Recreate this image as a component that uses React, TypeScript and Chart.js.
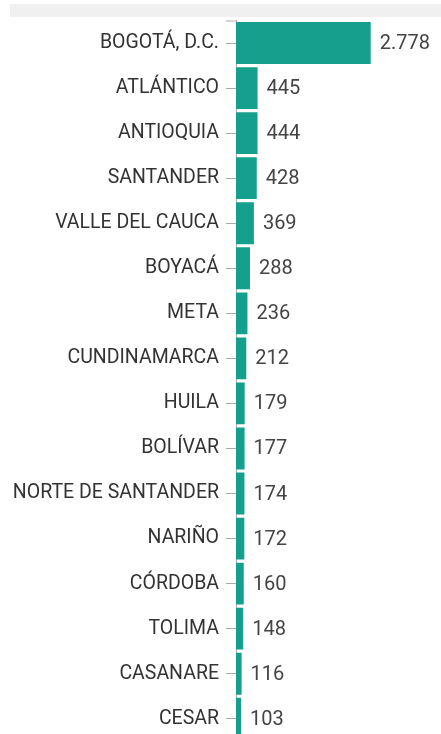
import React, { useEffect, useRef } from "react";
import { Chart, registerables } from "chart.js";

Chart.register(...registerables);

const categories = [
  "BOGOTÁ, D.C.",
  "ATLÁNTICO",
  "ANTIOQUIA",
  "SANTANDER",
  "VALLE DEL CAUCA",
  "BOYACÁ",
  "META",
  "CUNDINAMARCA",
  "HUILA",
  "BOLÍVAR",
  "NORTE DE SANTANDER",
  "NARIÑO",
  "CÓRDOBA",
  "TOLIMA",
  "CASANARE",
  "CESAR",
];

const values = [2778, 445, 444, 428, 369, 288, 236, 212, 179, 177, 174, 172, 160, 148, 116, 103];

const xMax = 4228;

const fmt = (v: number) => String(v).replace(/\B(?=(\d{3})+(?!\d))/g, ".");

const valueLabels = {
  id: "valueLabels",
  afterDatasetsDraw(chart: any) {
    const ctx = chart.ctx;
    const meta = chart.getDatasetMeta(0);
    ctx.save();
    ctx.font = "20px Roboto";
    ctx.fillStyle = "#444444";
    ctx.textAlign = "left";
    ctx.textBaseline = "middle";
    meta.data.forEach((bar: any, i: number) => {
      ctx.fillText(fmt(values[i]), bar.x + 9, bar.y + 1);
    });
    const area = chart.chartArea;
    ctx.strokeStyle = "#aaaaaa";
    ctx.lineWidth = 1;
    ctx.beginPath();
    ctx.moveTo(area.left - 10, area.top + 0.5);
    ctx.lineTo(area.left, area.top + 0.5);
    ctx.stroke();
    ctx.restore();
  },
};

export default function App() {
  const ref = useRef<HTMLCanvasElement>(null);

  useEffect(() => {
    if (!ref.current) return;
    const chart = new Chart(ref.current, {
      type: "bar",
      data: {
        labels: categories,
        datasets: [
          {
            data: values,
            backgroundColor: "#14a08c",
            borderWidth: 0,
            barPercentage: 0.93,
            categoryPercentage: 1,
          },
        ],
      },
      options: {
        indexAxis: "y",
        responsive: false,
        animation: false,
        devicePixelRatio: 1,
        layout: { padding: { top: 20.5, left: 0, right: 0, bottom: 0 } },
        plugins: { legend: { display: false }, tooltip: { enabled: false } },
        scales: {
          x: { display: false, min: 0, max: xMax },
          y: {
            afterFit: (scale: any) => {
              scale.width = 236;
            },
            border: { display: true, color: "#aaaaaa", width: 1 },
            grid: {
              display: true,
              drawOnChartArea: false,
              drawTicks: true,
              tickLength: 10,
              offset: false,
              color: "#aaaaaa",
            },
            ticks: {
              autoSkip: false,
              padding: 7,
              color: "#333333",
              font: { family: "Roboto", size: 19.5 },
            },
          },
        },
      },
      plugins: [valueLabels],
    });
    return () => chart.destroy();
  }, []);

  return (
    <div style={{ position: "fixed", left: 0, top: 0, width: 441, height: 760, overflow: "hidden", background: "#ffffff" }}>
      <div style={{ position: "absolute", left: 10, top: 4, width: 431, height: 13, background: "#f0f0f0" }} />
      <canvas ref={ref} width={441} height={760} style={{ position: "absolute", left: 0, top: 0, width: 441, height: 760 }} />
    </div>
  );
}
